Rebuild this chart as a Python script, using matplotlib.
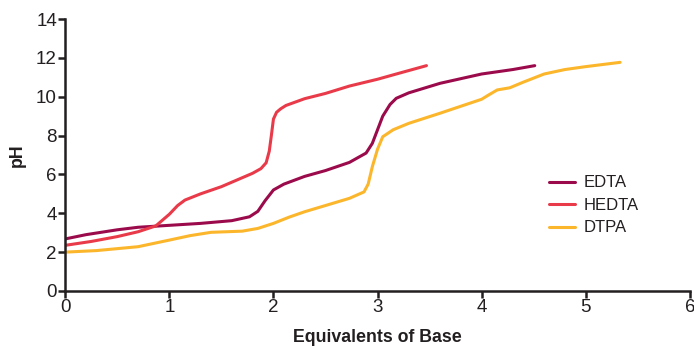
import matplotlib.pyplot as plt

plt.rcParams['font.family'] = ['Liberation Sans', 'DejaVu Sans']

# titration curves
edta_x = [0, 0.2, 0.5, 0.7, 1.0, 1.3, 1.6, 1.77, 1.85, 1.92, 2.0, 2.1, 2.3, 2.5, 2.73, 2.89, 2.95, 3.0, 3.05, 3.12, 3.18, 3.3, 3.6, 4.0, 4.3, 4.51]
edta_y = [2.68, 2.9, 3.15, 3.28, 3.38, 3.48, 3.62, 3.82, 4.1, 4.65, 5.2, 5.5, 5.9, 6.2, 6.62, 7.1, 7.6, 8.3, 9.0, 9.6, 9.92, 10.2, 10.69, 11.17, 11.4, 11.6]

hedta_x = [0, 0.25, 0.5, 0.7, 0.87, 1.0, 1.08, 1.15, 1.3, 1.5, 1.8, 1.88, 1.93, 1.96, 1.98, 2.0, 2.03, 2.07, 2.12, 2.3, 2.5, 2.73, 3.0, 3.2, 3.47]
hedta_y = [2.35, 2.55, 2.8, 3.05, 3.35, 3.95, 4.4, 4.68, 5.0, 5.37, 6.06, 6.3, 6.6, 7.2, 8.0, 8.85, 9.2, 9.38, 9.55, 9.9, 10.17, 10.55, 10.9, 11.2, 11.6]

dtpa_x = [0, 0.3, 0.7, 1.0, 1.2, 1.4, 1.7, 1.85, 2.0, 2.15, 2.3, 2.5, 2.73, 2.87, 2.91, 2.95, 3.0, 3.05, 3.15, 3.3, 3.6, 4.0, 4.07, 4.15, 4.27, 4.4, 4.6, 4.8, 5.0, 5.33]
dtpa_y = [2.0, 2.08, 2.28, 2.62, 2.85, 3.02, 3.08, 3.22, 3.48, 3.8, 4.08, 4.4, 4.77, 5.1, 5.5, 6.4, 7.3, 7.94, 8.3, 8.63, 9.15, 9.87, 10.1, 10.35, 10.46, 10.75, 11.17, 11.4, 11.55, 11.77]

series = [('EDTA', edta_x, edta_y, '#9b0b4c'),
          ('HEDTA', hedta_x, hedta_y, '#e93a4a'),
          ('DTPA', dtpa_x, dtpa_y, '#fcb62c')]

fig = plt.figure(figsize=(6.94, 3.46), dpi=100)
ax = fig.add_axes([0.094, 0.159, 0.9, 0.786])

for name, xs, ys, color in series:
    ax.plot(xs, ys, color=color, lw=2.2, label=name, solid_capstyle='round', solid_joinstyle='round')

ax.set_xlim(0, 6)
ax.set_ylim(0, 14)
ax.set_xticks(range(0, 7))
ax.set_yticks(range(0, 15, 2))

for side in ['top', 'right']:
    ax.spines[side].set_visible(False)
for side in ['left', 'bottom']:
    ax.spines[side].set_linewidth(1.8)
    ax.spines[side].set_color('#231f20')
ax.tick_params(axis='both', direction='out', length=5, width=1.8, color='#231f20',
               labelsize=13.5, labelcolor='#231f20', pad=1)

ax.set_xlabel('Equivalents of Base', fontsize=12.8, fontweight='bold', color='#231f20', labelpad=9)
ax.set_ylabel('pH', fontsize=12.8, fontweight='bold', color='#231f20', labelpad=7)

ax.legend(loc='upper left', bbox_to_anchor=(0.75, 0.48), frameon=False, fontsize=12,
          handlelength=1.6, handletextpad=0.5, labelspacing=0.45, labelcolor='#231f20')

fig.savefig('out.png', dpi=100)
